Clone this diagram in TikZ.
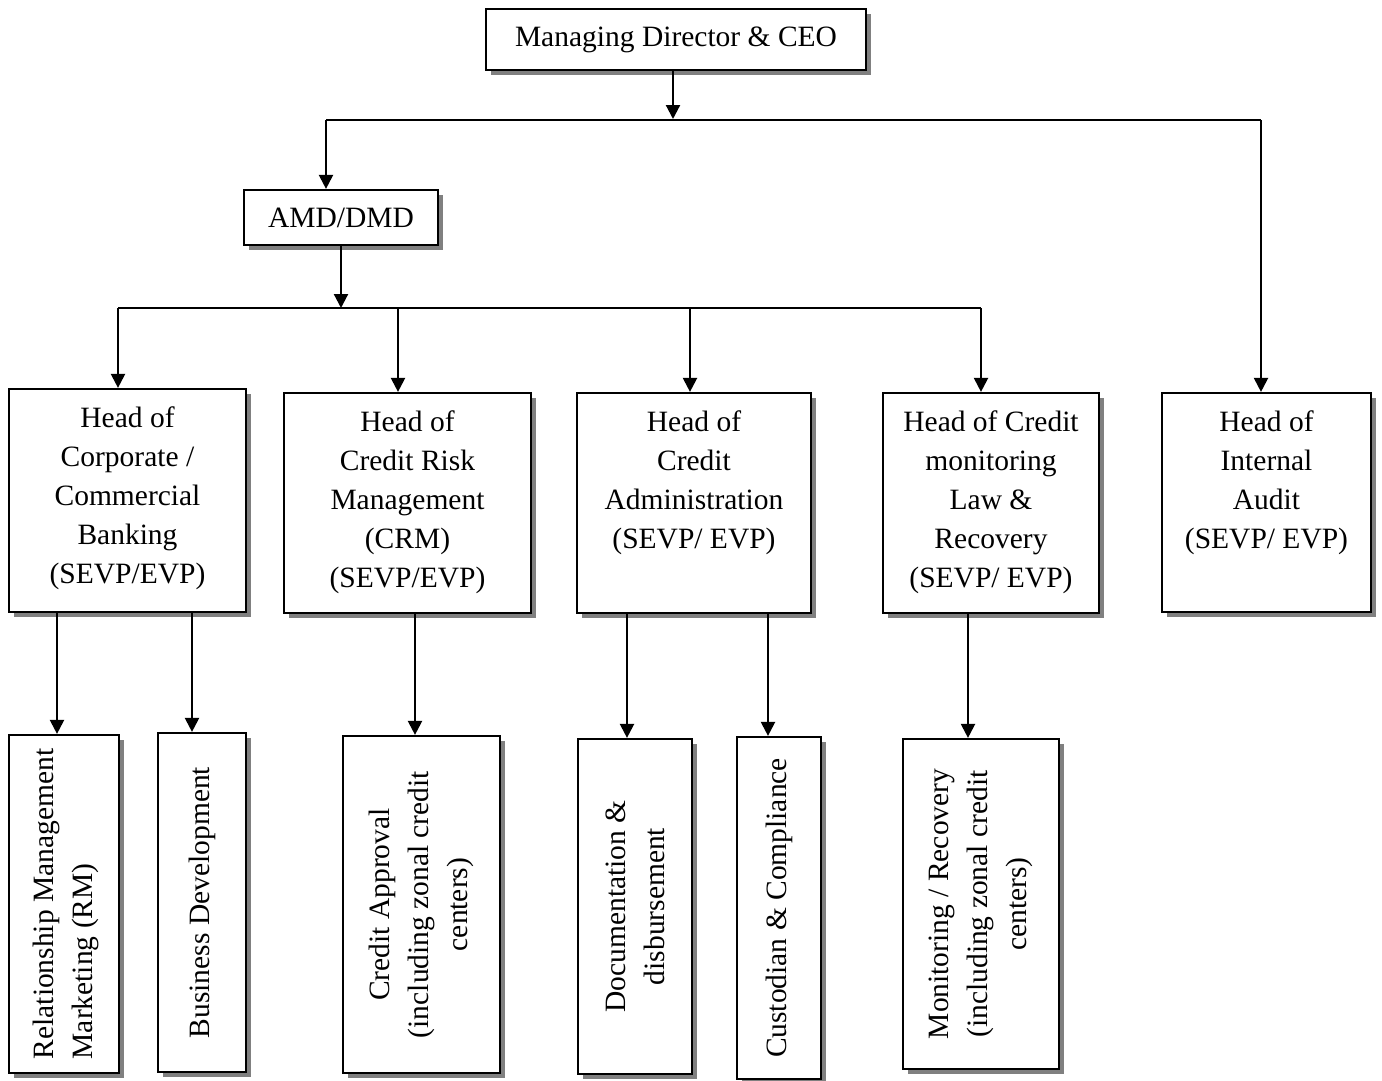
\documentclass[tikz,border=0pt]{standalone}
\usepackage{fontspec}
\setmainfont{Liberation Serif}
\usetikzlibrary{arrows.meta,shadows}
\tikzset{
  box/.style={draw, line width=2.2pt, fill=white, inner sep=0pt,
    drop shadow={shadow xshift=5pt, shadow yshift=-5pt, fill=black!50, opacity=1}},
  lbl/.style={inner sep=0pt, align=center, font=\fontsize{29.5}{39}\selectfont},
  rot/.style={lbl, rotate=90},
  link/.style={line width=2.2pt},
  arr/.style={link, -{Triangle[width=14pt,length=14pt]}},
}
\begin{document}
\begin{tikzpicture}[x=1pt,y=-1pt]
\useasboundingbox (0,0) rectangle (1382,1081);

% top levels
\node[box, lbl, minimum width=380pt, minimum height=61pt] (ceo) at (676,39.5) {Managing Director \& CEO};
\node[box, lbl, minimum width=194pt, minimum height=55pt] (amd) at (341,217.5) {AMD/DMD};

% heads of departments
\node[box, minimum width=237pt, minimum height=223pt] (corp) at (127.5,500.5) {};
\node[box, minimum width=247pt, minimum height=220pt] (crm) at (407.5,503) {};
\node[box, minimum width=234pt, minimum height=220pt] (adm) at (694,503) {};
\node[box, minimum width=216pt, minimum height=220pt] (mon) at (991,503) {};
\node[box, minimum width=209pt, minimum height=219pt] (aud) at (1266.5,502.5) {};

\node[lbl, anchor=north] (corpT) at ([yshift=-19pt]corp.north) {Head of\\Corporate /\\Commercial\\Banking\\(SEVP/EVP)};
\node[lbl, anchor=north] (crmT) at ([yshift=-19pt]crm.north) {Head of\\Credit Risk\\Management\\(CRM)\\(SEVP/EVP)};
\node[lbl, anchor=north] (admT) at ([yshift=-19pt]adm.north) {Head of\\Credit\\Administration\\(SEVP/ EVP)};
\node[lbl, anchor=north] (monT) at ([yshift=-19pt]mon.north) {Head of Credit\\monitoring\\Law \&\\Recovery\\(SEVP/ EVP)};
\node[lbl, anchor=north] (audT) at ([yshift=-19pt]aud.north) {Head of\\Internal\\Audit\\(SEVP/ EVP)};

% functional units
\node[box, minimum width=110pt, minimum height=338pt] (rm) at (64,904) {};
\node[box, minimum width=88pt, minimum height=339pt] (bd) at (202,902.5) {};
\node[box, minimum width=157pt, minimum height=337pt] (ca) at (421.5,904.5) {};
\node[box, minimum width=114pt, minimum height=335pt] (doc) at (635,906.5) {};
\node[box, minimum width=84pt, minimum height=342pt] (cus) at (779,908) {};
\node[box, minimum width=156pt, minimum height=330pt] (mr) at (981,904) {};

\node[rot, align=left] (rmT) at ([xshift=2pt]rm.center) {Relationship Management\\Marketing (RM)};
\node[rot] (bdT) at (bd) {Business Development};
\node[rot] (caT) at (ca) {Credit Approval\\(including zonal credit\\centers)};
\node[rot] (docT) at (doc) {Documentation \&\\disbursement};
\node[rot] (cusT) at (cus) {Custodian \& Compliance};
\node[rot] (mrT) at (mr) {Monitoring / Recovery\\(including zonal credit\\centers)};

% bus junctions
\coordinate (j1) at (673,119);
\coordinate (b1l) at (326,120);
\coordinate (b1r) at (1261,120);
\coordinate (j2) at (341,308);
\coordinate (b2l) at (118,308);
\coordinate (b2r) at (981,308);
\coordinate (d2) at (398,308);
\coordinate (d3) at (690,308);

% CEO level
\draw[arr] (ceo.south -| j1) -- (j1);
\draw[link] (b1l) -- (b1r);
\draw[arr] (b1l) -- (b1l |- amd.north);
\draw[arr] (b1r) -- (b1r |- aud.north);

% AMD level
\draw[arr] (amd.south -| j2) -- (j2);
\draw[link] (b2l) -- (b2r);
\draw[arr] (b2l) -- (b2l |- corp.north);
\draw[arr] (d2) -- (d2 |- crm.north);
\draw[arr] (d3) -- (d3 |- adm.north);
\draw[arr] (b2r) -- (b2r |- mon.north);

% heads to units
\draw[arr] (corp.south -| rm.north) ++(-7,0) coordinate (r1) -- (r1 |- rm.north);
\draw[arr] (corp.south -| bd.north) ++(-10,0) coordinate (r2) -- (r2 |- bd.north);
\draw[arr] (crm.south -| ca.north) ++(-6.5,0) coordinate (r3) -- (r3 |- ca.north);
\draw[arr] (adm.south -| doc.north) ++(-8,0) coordinate (r4) -- (r4 |- doc.north);
\draw[arr] (adm.south -| cus.north) ++(-11,0) coordinate (r5) -- (r5 |- cus.north);
\draw[arr] (mon.south -| mr.north) ++(-13,0) coordinate (r6) -- (r6 |- mr.north);
\end{tikzpicture}
\end{document}
